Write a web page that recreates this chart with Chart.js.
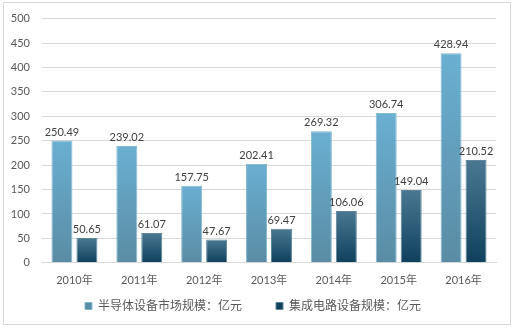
<!DOCTYPE html>
<html>
<head>
<meta charset="utf-8">
<script src="https://cdn.jsdelivr.net/npm/chart.js@4.4.1/dist/chart.umd.min.js"></script>
<style>
  html, body { margin: 0; padding: 0; background: #fff; }
  #wrap { width: 514px; height: 328px; }
</style>
</head>
<body>
<div id="wrap"><canvas id="chart" width="514" height="328"></canvas></div>
<script>
var years = ["2010年", "2011年", "2012年", "2013年", "2014年", "2015年", "2016年"];
var semiMarket = [250.49, 239.02, 157.75, 202.41, 269.32, 306.74, 428.94];
var icEquip = [50.65, 61.07, 47.67, 69.47, 106.06, 149.04, 210.52];
var seriesNames = ["半导体设备市场规模：亿元", "集成电路设备规模：亿元"];
var yTicks = { min: 0, max: 500, step: 50 };

var fontFamily = "Lato, 'Noto Sans CJK SC', sans-serif";

// gradient running down each bar, from its top to the zero line
function barGradient(light, dark) {
    return function(context) {
        var chart = context.chart;
        var y = chart.scales.y;
        if (!y || context.raw === undefined) return light;
        var top = y.getPixelForValue(context.raw);
        var bottom = y.getPixelForValue(0);
        if (!isFinite(top) || !isFinite(bottom) || bottom - top < 1) return light;
        var g = chart.ctx.createLinearGradient(0, top, 0, bottom);
        g.addColorStop(0, light);
        g.addColorStop(1, dark);
        return g;
    };
}

// frame around the whole picture
var framePlugin = {
    id: "frame",
    beforeDraw: function(chart) {
        var ctx = chart.ctx;
        ctx.save();
        ctx.fillStyle = "#fff";
        ctx.fillRect(0, 0, chart.width, chart.height);
        ctx.strokeStyle = "#d9d9d9";
        ctx.lineWidth = 1;
        ctx.strokeRect(3.5, 2.5, 507, 322);
        ctx.restore();
    }
};

// value labels above bars
var labelPlugin = {
    id: "valueLabels",
    afterDatasetsDraw: function(chart) {
        var ctx = chart.ctx;
        ctx.save();
        ctx.font = "11px " + fontFamily;
        ctx.fillStyle = "#404040";
        ctx.textAlign = "center";
        ctx.textBaseline = "bottom";
        chart.data.datasets.forEach(function(ds, i) {
            var meta = chart.getDatasetMeta(i);
            meta.data.forEach(function(bar, j) {
                ctx.fillText(ds.data[j].toFixed(2), bar.x, bar.y - 3);
            });
        });
        ctx.restore();
    }
};

var ctx = document.getElementById("chart").getContext("2d");
new Chart(ctx, {
    type: "bar",
    data: {
        labels: years,
        datasets: [
            {
                label: seriesNames[0],
                data: semiMarket,
                backgroundColor: barGradient("#6aafd2", "#5a8ca4"),
                borderColor: "#86b9d2",
                borderWidth: 1
            },
            {
                label: seriesNames[1],
                data: icEquip,
                backgroundColor: barGradient("#4a7893", "#0f415c"),
                borderColor: "#5f8499",
                borderWidth: 1
            }
        ]
    },
    options: {
        responsive: false,
        animation: false,
        devicePixelRatio: 1,
        layout: { padding: { left: 10, right: 18, top: -2, bottom: 6 } },
        datasets: {
            bar: { categoryPercentage: 0.77, barPercentage: 0.84 }
        },
        plugins: {
            legend: {
                position: "bottom",
                labels: {
                    boxWidth: 7,
                    boxHeight: 7,
                    padding: 10,
                    color: "#595959",
                    font: { size: 12, family: fontFamily },
                    generateLabels: function(chart) {
                        var items = Chart.defaults.plugins.legend.labels.generateLabels(chart);
                        // wider gap between the two entries
                        items[0].text += "\u3000\u3000";
                        return items;
                    }
                }
            },
            tooltip: { enabled: false }
        },
        scales: {
            x: {
                grid: { display: false },
                border: { color: "#d9d9d9" },
                ticks: {
                    color: "#595959",
                    padding: 3,
                    font: { size: 11, family: fontFamily }
                }
            },
            y: {
                min: yTicks.min,
                max: yTicks.max,
                grid: { color: "#d9d9d9", drawTicks: false },
                border: { display: false },
                ticks: {
                    stepSize: yTicks.step,
                    color: "#595959",
                    padding: 12,
                    font: { size: 11, family: fontFamily }
                },
                afterFit: function(scale) { scale.width = 32; }
            }
        }
    },
    plugins: [framePlugin, labelPlugin]
});
</script>
</body>
</html>
